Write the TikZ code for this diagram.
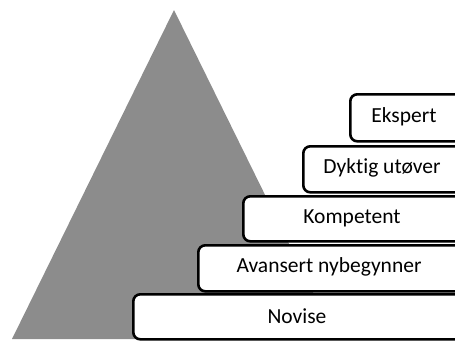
\documentclass[tikz,border=0pt]{standalone}
\usepackage{fontspec}
\setmainfont[Ligatures=NoCommon]{Carlito}
\begin{document}
\begin{tikzpicture}[x=1pt,y=-1pt,
  levelbox/.style={draw=black, line width=2.6pt, rounded corners=7pt, fill=white,
    anchor=north west, inner sep=0pt},
  lbl/.style={font=\fontsize{21.5}{25}\selectfont},
  pyr/.style={fill=black!45, draw=none}]
\useasboundingbox (0,0) rectangle (455,340);
\clip (0,0) rectangle (455,340);
\fill[pyr] (174,10) -- (12,339) -- (336,339) -- cycle;
\node[levelbox, minimum width=340pt, minimum height=45pt] (novise) at (132,293) {};
\node[levelbox, minimum width=275pt, minimum height=46pt] (avansert) at (197,244) {};
\node[levelbox, minimum width=230pt, minimum height=45pt] (kompetent) at (242,195) {};
\node[levelbox, minimum width=170pt, minimum height=46pt] (dyktig) at (302,145) {};
\node[levelbox, minimum width=122pt, minimum height=47pt] (ekspert) at (349,93) {};
\node[lbl] (tnov) at (297,316) {Novise};
\node[lbl] (tava) at (329,267) {Avansert nybegynner};
\node[lbl] (tkom) at (352,218) {Kompetent};
\node[lbl] (tdyk) at (382,168) {Dyktig utøver};
\node[lbl] (teks) at (404,117) {Ekspert};
\end{tikzpicture}
\end{document}
